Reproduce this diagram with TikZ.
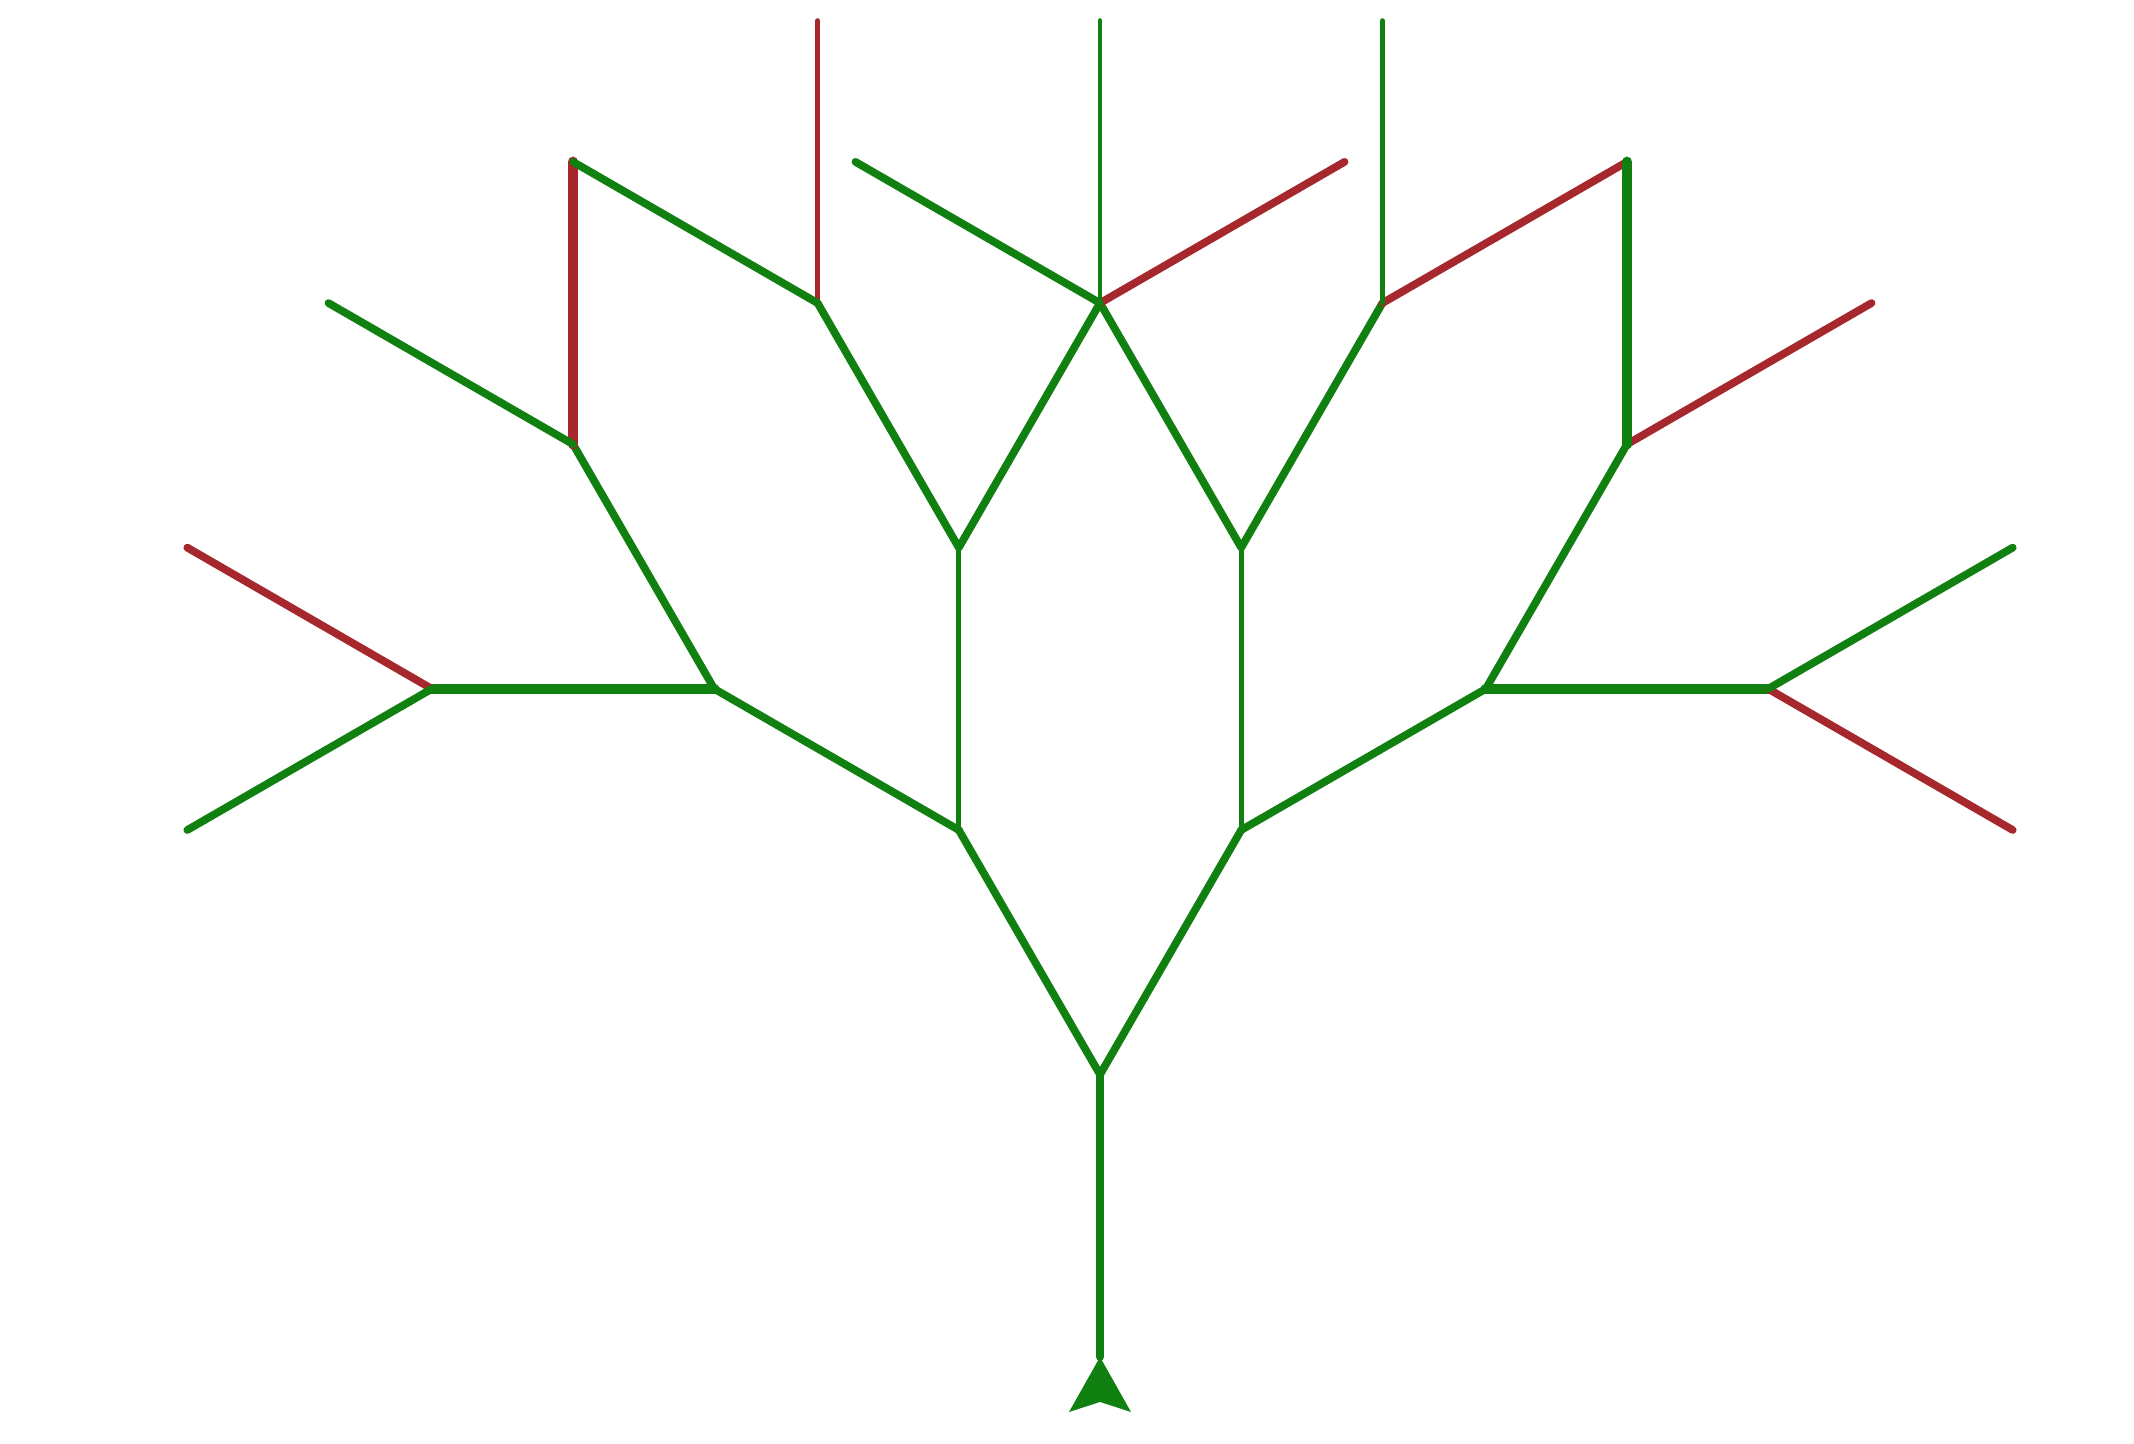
\documentclass[tikz,border=0pt]{standalone}

\definecolor{leafgreen}{RGB}{16,128,16}
\definecolor{leafred}{RGB}{166,40,44}

\tikzset{
  branch/.style={line width=2.2pt,line cap=round,leafgreen},
  twig/.style={line width=2.2pt,line cap=round,leafred},
  slim/.style={line width=1.4pt},
  heavy/.style={line width=3pt}
}

\begin{document}
\begin{tikzpicture}

\useasboundingbox (0,0) rectangle (21.34,14.44);

\begin{scope}[shift={(11.00,0.87)},scale=2.824]
\coordinate (root) at (0,0);
\coordinate (f) at (0,1);
\coordinate (fl) at (-0.5,1.866);
\coordinate (fr) at (0.5,1.866);
\coordinate (fll) at (-1.366,2.366);
\coordinate (flr) at (-0.5,2.866);
\coordinate (frl) at (0.5,2.866);
\coordinate (frr) at (1.366,2.366);
\coordinate (flll) at (-2.366,2.366);
\coordinate (fllr) at (-1.866,3.232);
\coordinate (flrl) at (-1,3.732);
\coordinate (mid) at (0,3.732);
\coordinate (frlr) at (1,3.732);
\coordinate (frrl) at (1.866,3.232);
\coordinate (frrr) at (2.366,2.366);
\coordinate (lw1) at (-3.232,1.866);
\coordinate (lw2) at (-3.232,2.866);
\coordinate (lw3) at (-2.732,3.732);
\coordinate (lt1) at (-1.866,4.232);
\coordinate (lt2) at (-1,4.732);
\coordinate (mt1) at (-0.866,4.232);
\coordinate (top) at (0,4.732);
\coordinate (mt2) at (0.866,4.232);
\coordinate (rt2) at (1,4.732);
\coordinate (rt1) at (1.866,4.232);
\coordinate (re3) at (2.732,3.732);
\coordinate (re2) at (3.232,2.866);
\coordinate (re1) at (3.232,1.866);
\end{scope}

\draw[branch]
(root)
--
(f);

\draw[branch]
(f) -- (fl)
(f) -- (fr);

\draw[branch]
(fl) -- (fll)
(fr) -- (frr);

\draw[branch,slim]
(fl) -- (flr)
(fr) -- (frl);

\draw[branch,heavy]
(fll) -- (flll)
(frr) -- (frrr);

\draw[branch]
(fll) -- (fllr)
(flr) -- (flrl)
(flr) -- (mid)
(frl) -- (mid)
(frl) -- (frlr)
(frr) -- (frrl);

\draw[twig]
(flll) -- (lw2)
(mid) -- (mt2)
(frlr) -- (rt1)
(frrl) -- (re3)
(frrr) -- (re1);

\draw[twig,heavy]
(fllr)
--
(lt1);

\draw[twig,slim]
(flrl)
--
(lt2);

\draw[branch]
(flll) -- (lw1)
(fllr) -- (lw3)
(flrl) -- (lt1)
(mid) -- (mt1)
(frrr) -- (re2);

\draw[branch,slim]
(mid) -- (top)
(frlr) -- (rt2);

\draw[branch,heavy]
(frrl)
--
(rt1);

\fill[leafgreen]
(root)
-- ++(-0.31,-0.55)
-- ++(0.31,0.10)
-- ++(0.31,-0.10)
-- cycle;

\end{tikzpicture}
\end{document}
